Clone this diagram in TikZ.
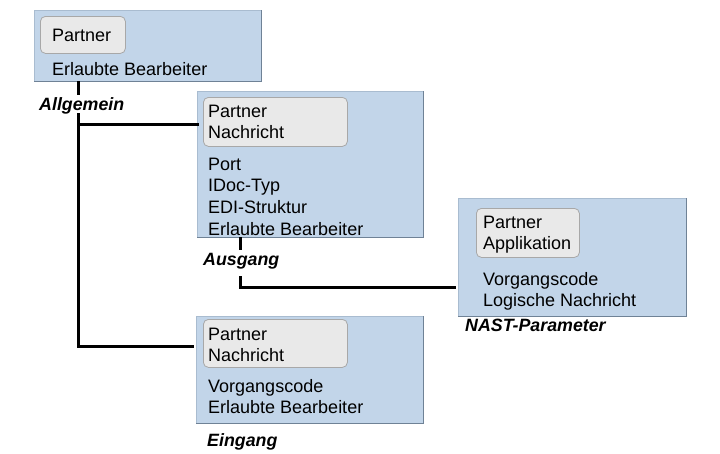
\documentclass[tikz,border=0pt]{standalone}
\usepackage{fontspec}
\setmainfont{Liberation Sans}
\definecolor{boxfill}{HTML}{C2D5E9}
\definecolor{boxedge}{HTML}{A9BCD0}
\definecolor{boxshade}{HTML}{6F8296}
\definecolor{innerfill}{HTML}{E9E9E9}
\definecolor{inneredge}{HTML}{A8A8A8}
\begin{document}
\begin{tikzpicture}[x=1pt,y=-1pt,
  outer/.style={draw=boxedge,fill=boxfill,line width=0.8pt,inner sep=0pt,anchor=north west},
  inner/.style={draw=inneredge,fill=innerfill,rounded corners=5pt,line width=0.8pt,inner sep=0pt,anchor=north west},
  txt/.style={anchor=base west,inner sep=0pt,font=\fontsize{18}{21}\selectfont},
  lbl/.style={anchor=base west,inner sep=0pt,font=\fontsize{17.8}{21}\selectfont\bfseries\itshape},
  conn/.style={line width=3pt,line cap=rect,line join=miter}]
\useasboundingbox (0,0) rectangle (720,453);
% outer boxes
\node[outer,minimum width=227pt,minimum height=71pt] (b1) at (34,10) {};
\node[outer,minimum width=226pt,minimum height=146pt] (b2) at (197,91) {};
\node[outer,minimum width=228pt,minimum height=118pt] (b3) at (458,198) {};
\node[outer,minimum width=227pt,minimum height=107pt] (b4) at (196,316) {};
\foreach \b in {b1,b2,b3,b4}{
  \draw[boxshade,line width=1.2pt] (\b.north east) -- (\b.south east) -- (\b.south west);
}
% inner rounded boxes
\node[inner,minimum width=85pt,minimum height=37pt] (i1) at (40,16) {};
\node[inner,minimum width=144pt,minimum height=49pt] (i2) at (203,97) {};
\node[inner,minimum width=103pt,minimum height=49pt] (i3) at (476,208) {};
\node[inner,minimum width=144pt,minimum height=48pt] (i4) at (203,319) {};
% box 1 texts
\node[txt] (t11) at (52,41) {Partner};
\node[txt] (t12) at (52,75) {Erlaubte Bearbeiter};
% box 2 texts
\node[txt] (t21) at (208,117) {Partner};
\node[txt] (t22) at (208,138.5) {Nachricht};
\node[txt] (t23) at (208,170) {Port};
\node[txt] (t24) at (208,191.7) {IDoc-Typ};
\node[txt] (t25) at (208,213.3) {EDI-Struktur};
\node[txt] (t26) at (208,235) {Erlaubte Bearbeiter};
% box 3 texts
\node[txt] (t31) at (483,228) {Partner};
\node[txt] (t32) at (483,249.5) {Applikation};
\node[txt] (t33) at (483,285) {Vorgangscode};
\node[txt] (t34) at (483,306.7) {Logische Nachricht};
% box 4 texts
\node[txt] (t41) at (208,340) {Partner};
\node[txt] (t42) at (208,361.5) {Nachricht};
\node[txt] (t43) at (208,392) {Vorgangscode};
\node[txt] (t44) at (208,413.5) {Erlaubte Bearbeiter};
% labels
\node[lbl] (lall) at (39,110) {Allgemein};
\node[lbl] (laus) at (203,265) {Ausgang};
\node[lbl] (lnast) at (465,331) {NAST-Parameter};
\node[lbl] (lein) at (207,446) {Eingang};
% connectors
\coordinate (a0) at (78,82);
\coordinate (a1) at (78,93);
\coordinate (a2) at (78,114);
\coordinate (a4) at (78,124);
\coordinate (e4) at (192,346);
\draw[conn] (a0) -- (a1);
\draw[conn] (a2) |- (e4);
\draw[conn] (a4) -- (a4 -| b2.west);
\coordinate (c0) at (240,238);
\coordinate (c1) at (240,248);
\coordinate (c2) at (240,277);
\coordinate (c3) at (454,287);
\draw[conn] (c0) -- (c1);
\draw[conn] (c2) |- (c3);
\end{tikzpicture}
\end{document}
